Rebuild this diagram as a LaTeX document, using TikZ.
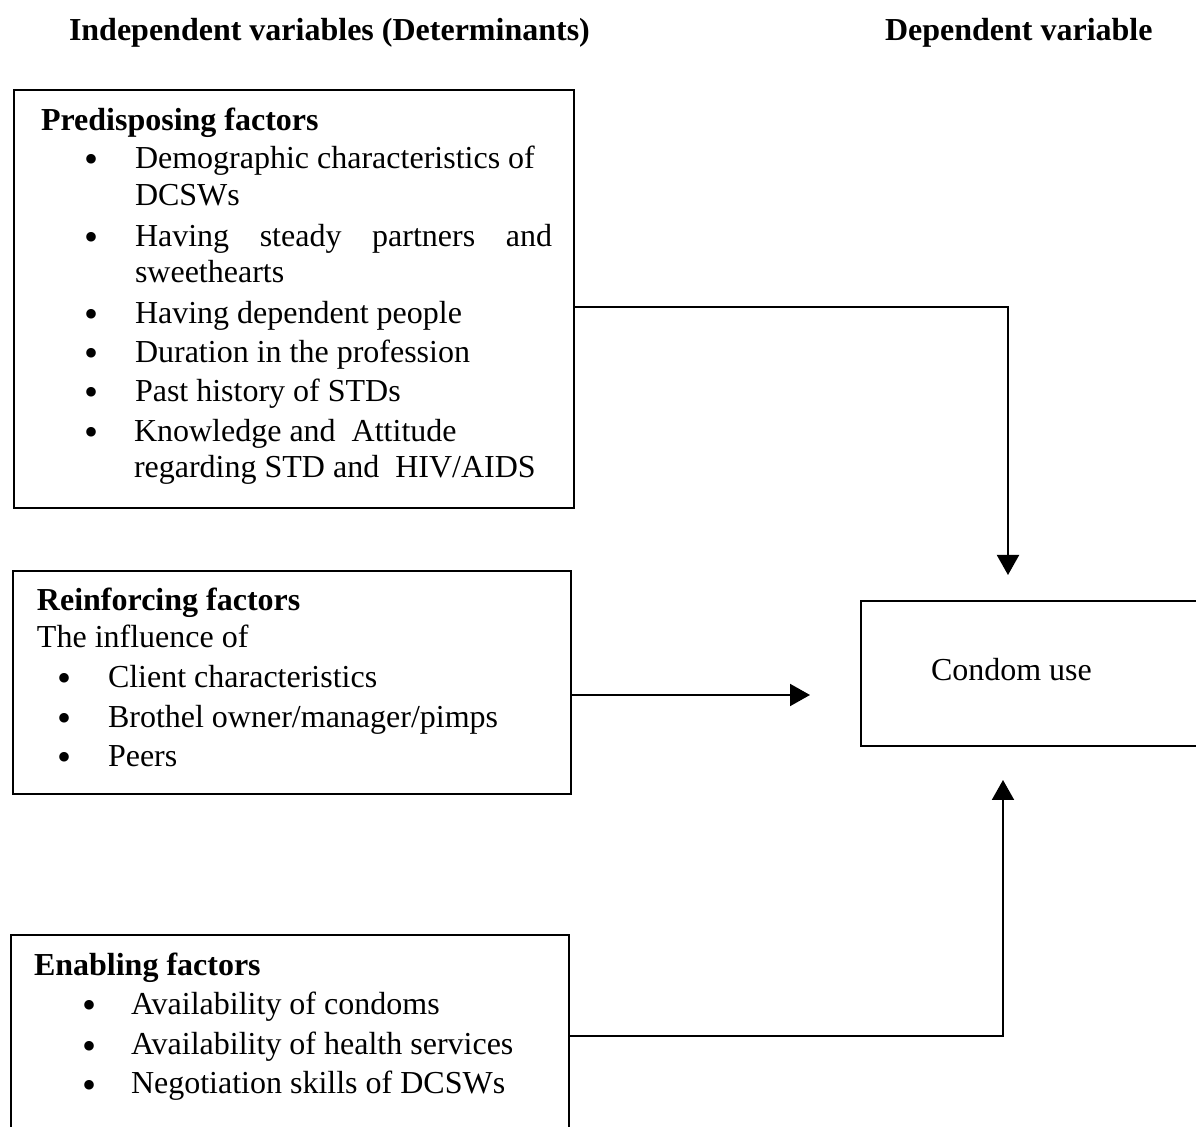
\documentclass[tikz,border=0pt]{standalone}
\usepackage{fontspec}
\setmainfont{Liberation Serif}
\usetikzlibrary{arrows.meta,positioning}

\begin{document}
\begin{tikzpicture}[x=0.5pt,y=-0.5pt,line width=1pt,
    every node/.append style={font=\fontsize{16}{19}\selectfont, inner sep=0pt},
    txt/.style={anchor=base west},
    head/.style={anchor=base west,font=\fontsize{16}{19}\selectfont\bfseries},
    bul/.style={anchor=center,font=\fontsize{20}{20}\selectfont},
    factorbox/.style={draw,anchor=north west,minimum width=279pt},
    arr/.style={-{Triangle[width=11pt,length=10pt]}}]
    \useasboundingbox (0,0) rectangle (1196,1127);
    % headings
    \node[head] (indep) at (68,41) {Independent variables (Determinants)};
    \node[head] (dep) at (884,41) {Dependent variable};
    % boxes
    \node[factorbox,minimum width=280pt,minimum height=209pt] (pre) at (13,89) {};
    \node[factorbox,minimum height=111.5pt] (rein) at (12,570) {};
    \node[factorbox,minimum height=113pt] (enab) at (10,934) {};
    \node[draw,anchor=north west,minimum width=190pt,minimum height=72.5pt] (use) at (860,600) {};
    % predisposing
    \node[head] (prehead) at (40,131) {Predisposing factors};
    \foreach \y in {164,242,319,358,397,437}
      \node[bul] at (92,\y) {\textbullet};
    \node[txt] (p1) at (134,169) {Demographic characteristics of};
    \node[txt] (p1b) at (134,206) {DCSWs};
    \node[txt] (p2) at (134,247) {\makebox[208.5pt][s]{Having\hfill steady\hfill partners\hfill and}};
    \node[txt] (p2b) at (134,283) {sweethearts};
    \node[txt] (p3) at (134,324) {Having dependent people};
    \node[txt] (p4) at (134,363) {Duration in the profession};
    \node[txt] (p5) at (134,402) {Past history of STDs};
    \node[txt] (p6) at (133,442) {Knowledge and~ Attitude};
    \node[txt] (p6b) at (133,478) {regarding STD and~ HIV/AIDS};
    % reinforcing
    \node[head] (reinhead) at (36,611) {Reinforcing factors};
    \node[txt] (infl) at (36,648) {The influence of};
    \foreach \y in {683,723,762}
      \node[bul] at (65,\y) {\textbullet};
    \node[txt] (r1) at (107,688) {Client characteristics};
    \node[txt] (r2) at (107,728) {Brothel owner/manager/pimps};
    \node[txt] (r3) at (107,767) {Peers};
    % enabling
    \node[head] (enabhead) at (33,976) {Enabling factors};
    \foreach \y in {1010,1050,1089}
      \node[bul] at (90,\y) {\textbullet};
    \node[txt] (e1) at (130,1015) {Availability of condoms};
    \node[txt] (e2) at (130,1055) {Availability of health services};
    \node[txt] (e3) at (130,1094) {Negotiation skills of DCSWs};
    % dependent
    \node[txt] (usetext) at (930,681) {Condom use};
    % arrows
    \coordinate (t1) at (1008,575);
    \coordinate (t2) at (810,695);
    \coordinate (t3) at (1003,780);
    \draw[arr] (pre.east |- 0,307) -| (t1);
    \draw[arr] (rein.east |- 0,695) -- (t2);
    \draw[arr] (enab.east |- 0,1036) -| (t3);
\end{tikzpicture}
\end{document}
